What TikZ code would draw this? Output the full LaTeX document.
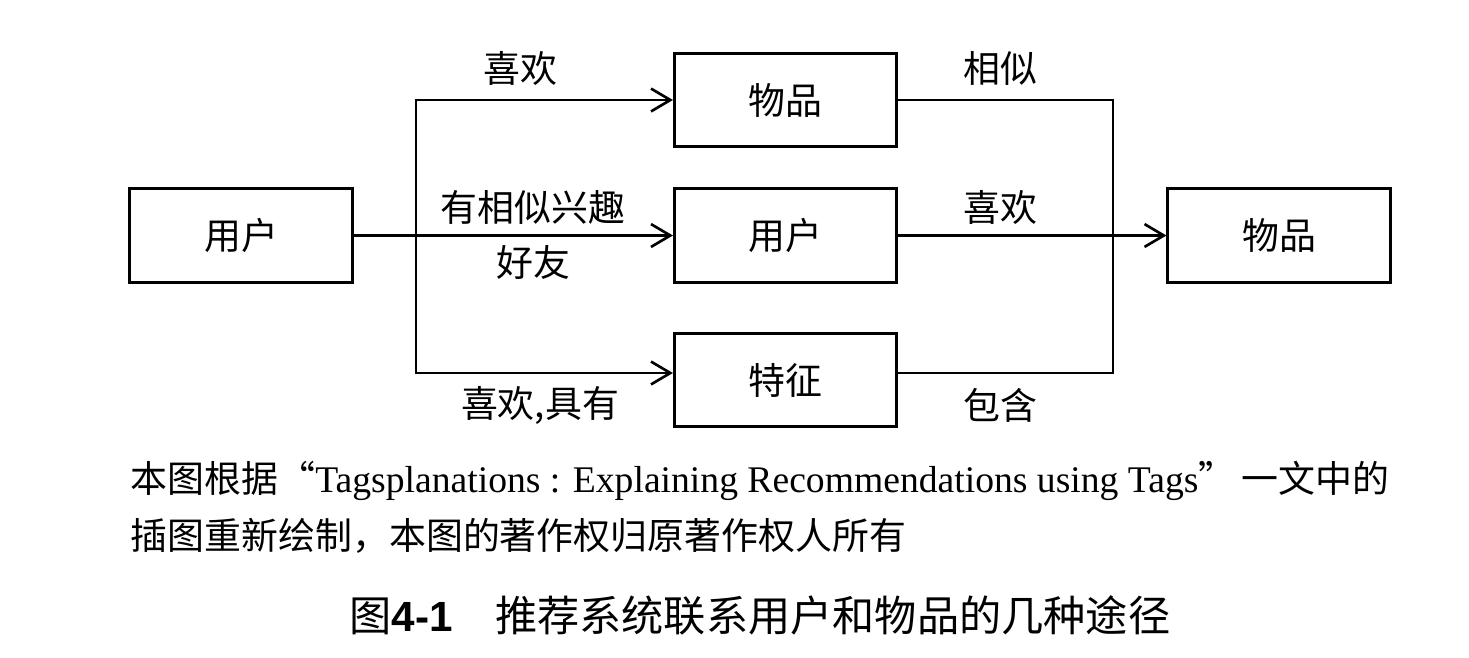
\documentclass[tikz,border=0pt]{standalone}
\usepackage{fontspec}
\setmainfont{Liberation Serif}
\newfontfamily\cjk{Noto Sans CJK SC}
\newfontfamily\numfont{Liberation Sans}
\usetikzlibrary{arrows.meta,positioning}
\tikzset{
  blok/.style={draw=black, line width=0.85pt, minimum width=2.22cm,
    minimum height=0.93cm, inner sep=0pt, font=\cjk\fontsize{10.5}{12}\selectfont},
  lbl/.style={inner sep=0pt, font=\cjk\fontsize{10.5}{12}\selectfont},
  captxt/.style={inner sep=0pt, anchor=west, font=\fontsize{10.5}{12}\selectfont},
  ttl/.style={inner sep=0pt, font=\fontsize{12}{14}\selectfont},
  link/.style={draw=black, line width=0.75pt},
  tip/.style={-{Straight Barb[length=5.5pt,width=6.5pt]}},
}
\begin{document}
\begin{tikzpicture}[x=0.01cm,y=-0.01cm]
  \useasboundingbox (0,0) rectangle (1469,657);
  %% boxes
  \node[blok] (u0) at (241,235.5) {用户};
  \node[blok] (i1) at (785.5,100) {物品};
  \node[blok] (u1) at (785.5,235.5) {用户};
  \node[blok] (f1) at (785.5,380) {特征};
  \node[blok] (i2) at (1279,235.5) {物品};
  %% branch points
  \coordinate (sl) at (416,235.5);
  \coordinate (sr) at (1113,235.5);
  %% left fan
  \draw[link,tip] (u0.east) -- (u1.west);
  \draw[link,tip] (sl) |- (i1.west);
  \draw[link,tip] (sl) |- ([yshift=0.07cm]f1.west);
  %% right merge
  \draw[link] (i1.east) -| (sr) |- ([yshift=0.07cm]f1.east);
  \draw[link,tip] (u1.east) -- (i2.west);
  %% edge labels
  \node[lbl] (l1) at (520,68) {喜欢};
  \node[lbl] (l2) at (533,207) {有相似兴趣};
  \node[lbl] (l3) at (533,262) {好友};
  \node[lbl] (l4) at (540,405) {喜欢,具有};
  \node[lbl] (r1) at (1000,68) {相似};
  \node[lbl] (r2) at (1000,207) {喜欢};
  \node[lbl] (r3) at (1000,405) {包含};
  %% caption
  \node[captxt] (c1) at (130,481) {{\cjk 本图根据“}{\fontsize{10.7}{12}\selectfont Tagsplanations : Explaining Recommendations using Tags}{\cjk ”\,一文中的}};
  \node[captxt] (c2) at (130,536) {\cjk 插图重新绘制，本图的著作权归原著作权人所有};
  \node[ttl] (t) at (760,615) {{\cjk 图}{\numfont\bfseries 4-1}\quad{\cjk 推荐系统联系用户和物品的几种途径}};
\end{tikzpicture}
\end{document}
